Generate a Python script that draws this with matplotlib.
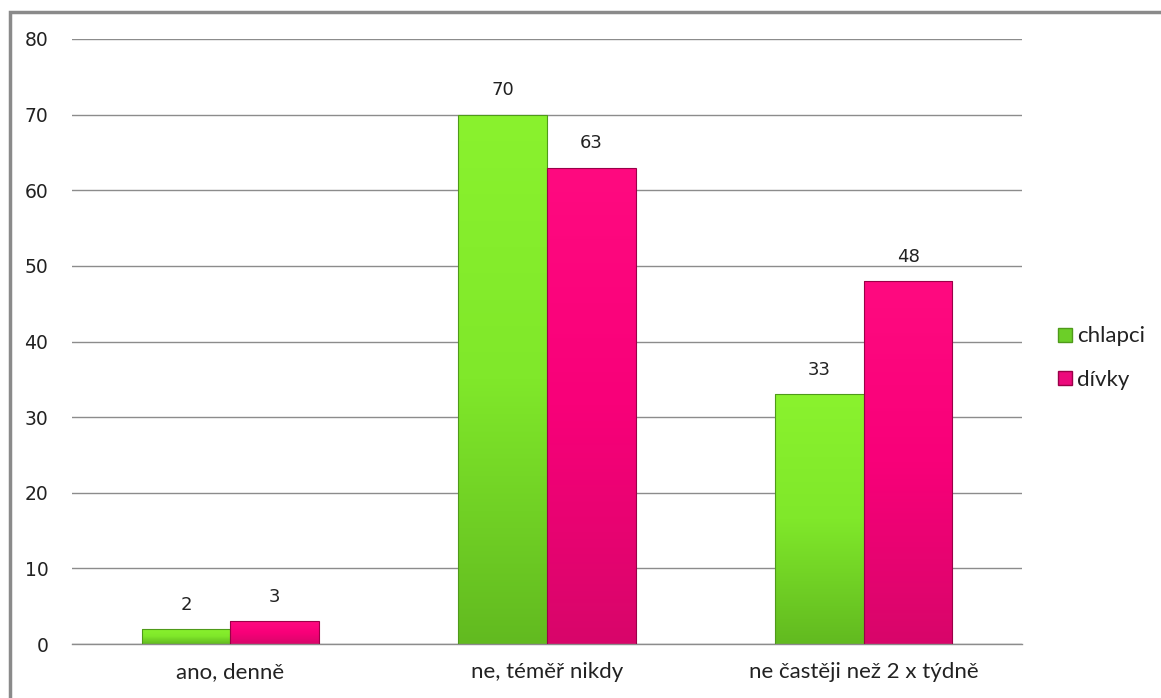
import numpy as np
import matplotlib
matplotlib.use("Agg")
import matplotlib.pyplot as plt
from matplotlib.colors import LinearSegmentedColormap
from matplotlib.patches import Rectangle
from matplotlib.lines import Line2D

categories = ["ano, denně", "ne, téměř nikdy", "ne častěji než 2 x týdně"]
series_names = ["chlapci", "dívky"]
chlapci = [2, 70, 33]
divky = [3, 63, 48]
yticks = [0, 10, 20, 30, 40, 50, 60, 70, 80]

green_cmap = LinearSegmentedColormap.from_list("g", ["#8af22e", "#80e82a", "#62ba20"])
pink_cmap = LinearSegmentedColormap.from_list("p", ["#ff0a80", "#f80079", "#d8066a"])
edge_green = "#4f9a1a"
edge_pink = "#9a0048"

fig = plt.figure(figsize=(11.61, 6.98), dpi=100)
fig.patch.set_facecolor("white")
ax = fig.add_axes([72 / 1161, 1 - 644 / 698, 950 / 1161, 605 / 698])

x = np.arange(len(categories))
w = 0.28
grad = np.linspace(0, 1, 256).reshape(-1, 1)

def gradient_bars(xpos, vals, cmap, edge):
    bars = ax.bar(xpos, vals, width=w, color="none", edgecolor=edge, linewidth=0.8, zorder=3)
    for b in bars:
        x0, y0 = b.get_x(), b.get_y()
        bw, bh = b.get_width(), b.get_height()
        im = ax.imshow(grad, cmap=cmap, aspect="auto",
                       extent=(x0, x0 + bw, y0, y0 + bh), origin="upper", zorder=2)
        im.set_clip_path(b)
    return bars

b1 = gradient_bars(x - w / 2, chlapci, green_cmap, edge_green)
b2 = gradient_bars(x + w / 2, divky, pink_cmap, edge_pink)

for bars, vals in ((b1, chlapci), (b2, divky)):
    for b, v in zip(bars, vals):
        ax.annotate(str(v), (b.get_x() + b.get_width() / 2, v), xytext=(0, 11),
                    textcoords="offset points", ha="center", va="bottom",
                    fontsize=13, color="#222222", family="DejaVu Sans")

ax.set_xlim(-0.5, len(categories) - 0.5)
ax.set_ylim(0, 80)
ax.set_yticks(yticks)
ax.set_yticklabels([str(t) for t in yticks], fontsize=13.5, color="#222222", family="DejaVu Sans")
ax.set_xticks(x)
ax.set_xticklabels(categories, fontsize=16, color="#222222", family="Lato")
ax.tick_params(axis="y", length=0, pad=17)
ax.tick_params(axis="x", length=0, pad=13)
ax.yaxis.grid(True, color="#8c8c8c", linewidth=1.0)
ax.set_axisbelow(True)
for s in ("left", "right", "top"):
    ax.spines[s].set_visible(False)
ax.spines["bottom"].set_color("#8c8c8c")
ax.spines["bottom"].set_linewidth(1.0)

handles = [
    Line2D([], [], marker="s", linestyle="none", markersize=10,
           markerfacecolor="#6ccf28", markeredgecolor=edge_green),
    Line2D([], [], marker="s", linestyle="none", markersize=10,
           markerfacecolor="#ec0a7c", markeredgecolor=edge_pink),
]
leg = fig.legend(handles, series_names, loc="center left",
                 bbox_to_anchor=(1046 / 1161, 1 - 358 / 698), frameon=False,
                 prop={"family": "Lato", "size": 16}, handletextpad=0.1,
                 labelspacing=1.05, handlelength=0.9, borderaxespad=0)
for t in leg.get_texts():
    t.set_color("#222222")

# outer chart frame
fig.add_artist(Rectangle((10 / 1161, -0.05), 1.1, 1 - 12 / 698 + 0.05,
                         transform=fig.transFigure, fill=False,
                         edgecolor="#8a8a8a", linewidth=2.5))

fig.savefig("out.png", dpi=100, facecolor="white")
